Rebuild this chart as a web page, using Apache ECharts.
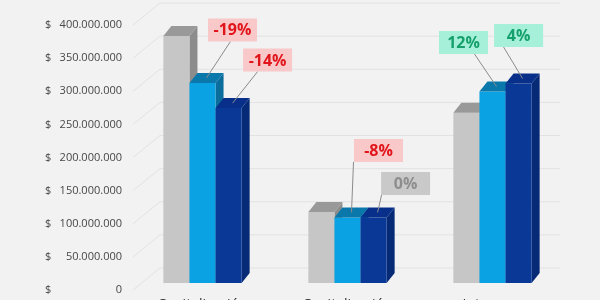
<!DOCTYPE html>
<html><head><meta charset="utf-8">
<script src="https://cdn.jsdelivr.net/npm/echarts@6/dist/echarts.min.js"></script>
<style>html,body{margin:0;padding:0;background:#f2f2f2}#c{width:600px;height:300px}</style>
</head><body><div id="c"></div>
<script>
// ---- data (values in millions) ----
const categories = ['Capitalización', 'Capitalización', 'Intereses'];
const prevValues = [373, 107, 257];
const midValues = [302, 99, 289];
const currValues = [264, 99, 301];
const midChange = ['-19%', '-8%', '12%'];
const currChange = ['-14%', '0%', '4%'];
const yTicks = [0, 50, 100, 150, 200, 250, 300, 350, 400];

// ---- style config ----
const FRONT_DY = -7;          // bar front plane vs label plane
const DEPTH = [8, -10];       // bar depth
const WALL = [27, -22];       // back wall offset
const midOffsets = [[26, -48, -2], [27, -62, -25], [-33, -44, 11]];
const currOffsets = [[35, -43, -10], [28, -29, -24], [-4, -43, -15]];
const palettes = [
  {front: '#c6c6c6', top: '#999999', side: '#8c8c8c'},
  {front: '#0aa2e2', top: '#0b78ab', side: '#0a6d9c'},
  {front: '#0a3897', top: '#08308a', side: '#072a76'}
];

function fmt(v) {
  const n = Math.round(v * 1e6);
  if (n === 0) return '0';
  return String(n).replace(/\B(?=(\d{3})+(?!\d))/g, '.');
}

function barRender(slot) {
  const p = palettes[slot + 1];
  return function (params, api) {
    const base = api.coord([api.value(0), 0]);
    const top = api.coord([api.value(0), api.value(1)]);
    const band = api.size([1, 0])[0];
    const w = band * 0.18;
    const cx = top[0] + slot * w;
    const l = cx - w / 2;
    const yb = base[1] + FRONT_DY, yt = top[1] + FRONT_DY;
    const dx = DEPTH[0], dy = DEPTH[1];
    return {
      type: 'group',
      children: [
        {type: 'polygon', shape: {points: [[l + w, yt], [l + w + dx, yt + dy], [l + w + dx, yb + dy], [l + w, yb]]}, style: {fill: p.side}},
        {type: 'rect', shape: {x: l, y: yt, width: w, height: yb - yt}, style: {fill: p.front}},
        {type: 'polygon', shape: {points: [[l, yt], [l + w, yt], [l + w + dx, yt + dy], [l + dx, yt + dy]]}, style: {fill: p.top}}
      ]
    };
  };
}

function calloutRender(slot, texts, offsets) {
  return function (params, api) {
    const i = params.dataIndex;
    const top = api.coord([api.value(0), api.value(1)]);
    const band = api.size([1, 0])[0];
    const w = band * 0.18;
    const fx = top[0] + slot * w + DEPTH[0] / 2;
    const fy = top[1] + FRONT_DY + DEPTH[1] / 2;
    const o = offsets[i];
    const bx = fx + o[0], by = fy + o[1];
    const bw = 49, bh = 23;
    const t = texts[i];
    let bg = '#f9c8c8', fg = '#e1161c';
    if (t.charAt(0) !== '-') {
      if (parseFloat(t) === 0) { bg = '#c9c9c9'; fg = '#8e8e8e'; }
      else { bg = '#a6f0da'; fg = '#16a06c'; }
    }
    return {
      type: 'group',
      children: [
        {type: 'line', shape: {x1: bx + o[2], y1: by + bh / 2, x2: fx, y2: fy}, style: {stroke: '#8a8a8a', lineWidth: 1}},
        {type: 'rect', shape: {x: bx - bw / 2, y: by - bh / 2, width: bw, height: bh}, style: {fill: bg}},
        {type: 'text', x: bx, y: by + 1, style: {text: t, fill: fg, font: 'bold 16px "Open Sans", sans-serif', align: 'center', verticalAlign: 'middle'}}
      ]
    };
  };
}

function wallRender(params, api) {
  const cs = params.coordSys;
  const p = api.coord([0, api.value(1)]);
  const y = p[1];
  const x0 = cs.x + 3;
  const x1 = cs.x + 3 + WALL[0];
  return {
    type: 'group',
    children: [
      {type: 'line', shape: {x1: x0, y1: y, x2: x1, y2: y + WALL[1]}, style: {stroke: '#e2e2e2', lineWidth: 1}},
      {type: 'line', shape: {x1: x1, y1: y + WALL[1], x2: cs.x + cs.width - 5, y2: y + WALL[1]}, style: {stroke: '#e2e2e2', lineWidth: 1}}
    ]
  };
}

const chart = echarts.init(document.getElementById('c'), null, {renderer: 'canvas'});
chart.setOption({
  backgroundColor: '#f2f2f2',
  animation: false,
  grid: {left: 130, right: 35, top: 25, bottom: 10, containLabel: false, outerBoundsMode: 'none'},
  xAxis: {
    type: 'category', data: categories,
    axisLine: {show: false}, axisTick: {show: false},
    axisLabel: {margin: 8, color: '#333', fontSize: 14, fontWeight: 500, fontFamily: '"Open Sans", sans-serif'}
  },
  yAxis: {
    type: 'value', min: 0, max: 400, interval: 50,
    splitLine: {show: false}, axisLine: {show: false}, axisTick: {show: false},
    axisLabel: {
      margin: 8,
      formatter: v => '{c|$}{n|' + fmt(v) + '}',
      rich: {
        c: {width: 12, align: 'left', color: '#474747', fontSize: 11, fontFamily: '"Open Sans", sans-serif', fontWeight: 500},
        n: {width: 65, align: 'right', color: '#474747', fontSize: 11, fontFamily: '"Open Sans", sans-serif', fontWeight: 500}
      }
    }
  },
  series: [
    {type: 'custom', z: 1, renderItem: wallRender, encode: {x: 0, y: 1}, data: yTicks.map(v => [0, v]), silent: true},
    {type: 'custom', z: 2, renderItem: barRender(-1), encode: {x: 0, y: 1}, data: prevValues.map((v, i) => [i, v])},
    {type: 'custom', z: 3, renderItem: barRender(0), encode: {x: 0, y: 1}, data: midValues.map((v, i) => [i, v])},
    {type: 'custom', z: 4, renderItem: barRender(1), encode: {x: 0, y: 1}, data: currValues.map((v, i) => [i, v])},
    {type: 'custom', z: 5, renderItem: calloutRender(0, midChange, midOffsets), encode: {x: 0, y: 1}, data: midValues.map((v, i) => [i, v])},
    {type: 'custom', z: 6, renderItem: calloutRender(1, currChange, currOffsets), encode: {x: 0, y: 1}, data: currValues.map((v, i) => [i, v])}
  ]
});
</script></body></html>
